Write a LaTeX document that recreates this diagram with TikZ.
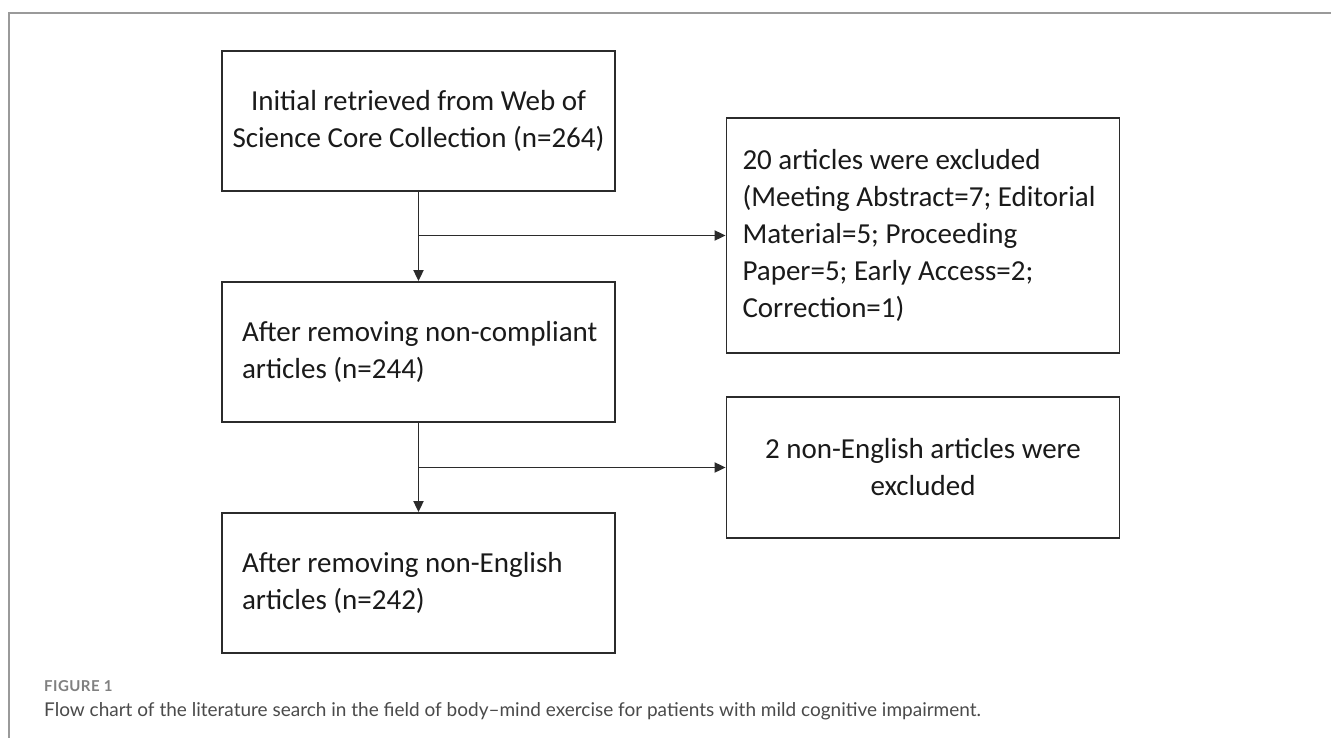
\documentclass[tikz,border=0pt]{standalone}
\usepackage{fontspec}
\setmainfont{Carlito}
\newfontfamily\capfont{Lato}
\newfontfamily\figfont[LetterSpace=3]{Lato}
\usetikzlibrary{arrows.meta}
\definecolor{boxline}{HTML}{2B2B2B}
\definecolor{frameline}{HTML}{9A9A9A}
\definecolor{txt}{HTML}{1A1A1A}
\definecolor{capgray}{HTML}{808080}
\definecolor{captxt}{HTML}{4A4A4A}
\tikzset{
  flowbox/.style={draw=boxline, line width=1.8pt, minimum width=393pt, minimum height=140pt,
    inner sep=0pt, text=txt, font=\fontsize{29}{37}\selectfont},
  leftbox/.style={flowbox, text width=353pt, align=flush left},
  leftboxb/.style={flowbox, text width=361pt, align=flush left},
  flowarrow/.style={draw=boxline, line width=1.8pt, -{Triangle[length=11pt,width=10pt]}},
}
\begin{document}
\begin{tikzpicture}[x=1pt,y=-1pt]
\useasboundingbox (0,0) rectangle (1331,737);
\fill[white] (0,0) rectangle (1331,737);
% frame
\draw[frameline, line width=1.2pt] (9,740) -- (9,13) -- (1335,13);
% boxes
\node[flowbox, align=center] (b1) at (418.5,121) {Initial retrieved from Web of\\Science Core Collection (n=264)};
\node[leftbox] (b2) at (418.5,352) {\mbox{After removing non-compliant}\\\mbox{articles (n=244)}};
\node[leftbox] (b5) at (418.5,583) {\mbox{After removing non-English}\\\mbox{articles (n=242)}};
\node[leftboxb, minimum height=235pt] (b3) at (923,235.5) {\mbox{20 articles were excluded}\\\mbox{(Meeting Abstract=7; Editorial}\\\mbox{Material=5; Proceeding}\\\mbox{Paper=5; Early Access=2;}\\\mbox{Correction=1)}};
\node[flowbox, minimum height=141pt, align=center] (b4) at (923,467.5) {2 non-English articles were\\excluded};
% connectors
\coordinate (j1) at (b1.south |- b3.west);
\coordinate (j2) at (b2.south |- b4.west);
\draw[flowarrow] (b1.south) -- (b2.north);
\draw[flowarrow] (j1) -- (b3.west);
\draw[flowarrow] (b2.south) -- (b5.north);
\draw[flowarrow] (j2) -- (b4.west);
% caption
\node[anchor=base west, inner sep=0pt, text=capgray, font=\figfont\bfseries\fontsize{15}{18}\selectfont] (fig) at (44,691) {FIGURE 1};
\node[anchor=base west, inner sep=0pt, text=captxt, font=\capfont\fontsize{19}{23}\selectfont] (cap) at (44,716) {Flow chart of the literature search in the field of body–mind exercise for patients with mild cognitive impairment.};
\end{tikzpicture}
\end{document}
